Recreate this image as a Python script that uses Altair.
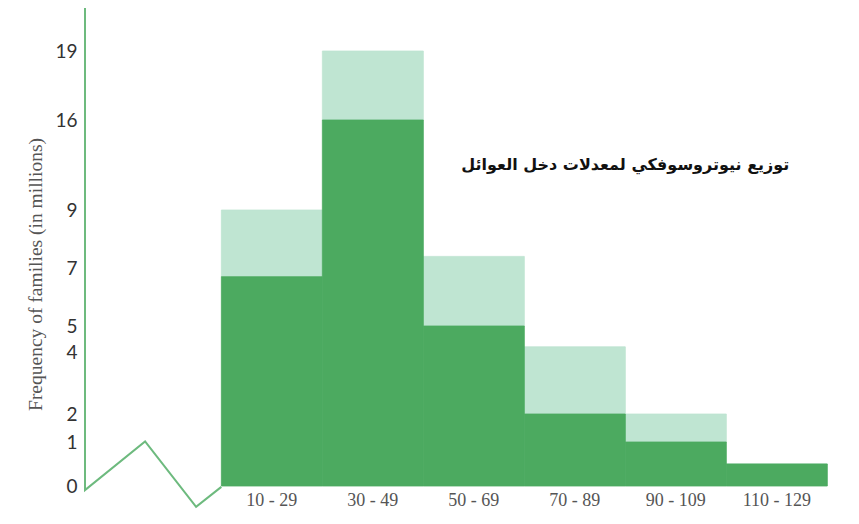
import altair as alt
import pandas as pd

# ---- data ----
classes = ["10 - 29", "30 - 49", "50 - 69", "70 - 89", "90 - 109", "110 - 129"]
class_start = [10, 30, 50, 70, 90, 110]
class_end = [30, 50, 70, 90, 110, 130]
lower = [6.7, 16, 5, 2, 1, 0.5]
upper = [9, 19, 7.4, 4.2, 2, 0.5]
y_ticks = [0, 1, 2, 4, 5, 7, 9, 16, 19]

# axis-break zigzag (income units, frequency units)
break_x = [-17, -17, -5.1, 5.0, 10]
break_y = [20.8, -0.14, 1.02, -0.72, -0.03]

title_text = "توزيع نيوتروسوفكي لمعدلات دخل العوائل"
title_x = [90]
title_y = [12.5]

DARK = "#4caa60"
LIGHT = "#bfe5d2"
LINE = "#6dba7e"

W, H = 760, 507

bars = pd.DataFrame({
    "cls": classes,
    "start": class_start,
    "end": class_end,
    "mid": [(a + b) / 2 for a, b in zip(class_start, class_end)],
    "lower": lower,
    "upper": upper,
})
brk = pd.DataFrame({"x": break_x, "y": break_y, "i": list(range(len(break_x)))})
ttl = pd.DataFrame({"x": title_x, "y": title_y, "t": [title_text]})

xscale = alt.Scale(domain=[-17, 133.5], nice=False, zero=False)
# the printed axis is irregular: piecewise linear scale
yscale = alt.Scale(
    domain=[-1, 0, 1, 2, 4, 5, 7, 9, 16, 19, 20.8],
    range=[507, 478, 434, 406, 344, 318, 260, 202, 112, 43, 0],
    nice=False, zero=False,
)

yaxis = alt.Axis(
    values=y_ticks,
    title="Frequency of families (in millions)",
    domain=False, ticks=False, grid=False,
    labelFont="Lato", labelFontSize=19, labelColor="#333333",
    labelPadding=8, labelOverlap=False,
    titleFont="Liberation Serif", titleFontSize=19.5, titleFontWeight="normal",
    titleColor="#555555",
    titleX=-50, titleY=266, titleAngle=270,
    titleAlign="center", titleBaseline="middle",
)

base = alt.Chart(bars)

light = base.mark_rect(color=LIGHT, stroke=LIGHT, strokeWidth=0.8).encode(
    x=alt.X("start:Q", scale=xscale, axis=None),
    x2="end:Q",
    y=alt.Y("lower:Q", scale=yscale, axis=yaxis),
    y2="upper:Q",
)

dark = base.mark_rect(color=DARK, stroke=DARK, strokeWidth=0.8).encode(
    x=alt.X("start:Q", scale=xscale, axis=None),
    x2="end:Q",
    y=alt.Y("lower:Q", scale=yscale),
    y2=alt.datum(0),
)

labels = base.mark_text(
    font="Liberation Serif", fontSize=18, color="#555555",
    baseline="top", dy=6,
).encode(
    x=alt.X("mid:Q", scale=xscale),
    y=alt.datum(0),
    text="cls:N",
)

zig = alt.Chart(brk).mark_line(color=LINE, strokeWidth=2).encode(
    x=alt.X("x:Q", scale=xscale),
    y=alt.Y("y:Q", scale=yscale),
    order="i:Q",
)

title = alt.Chart(ttl).mark_text(
    font="DejaVu Sans", fontSize=16, fontWeight="bold", color="#111111",
).encode(
    x=alt.X("x:Q", scale=xscale),
    y=alt.Y("y:Q", scale=yscale),
    text="t:N",
)

chart = alt.layer(light, dark, zig, labels, title).properties(
    width=W, height=H,
    autosize="none",
    padding={"left": 77, "top": 0, "right": 6, "bottom": 0},
    background="white",
).configure_view(stroke=None)

chart.save("out.html", embed_options={"renderer": "svg", "actions": False})
